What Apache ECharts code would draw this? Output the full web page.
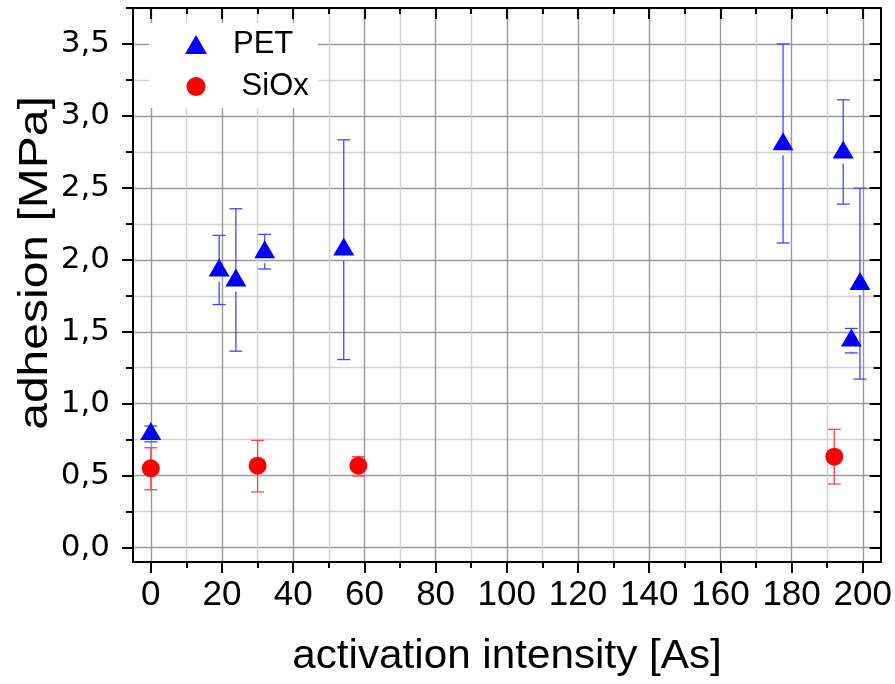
<!DOCTYPE html>
<html>
<head>
<meta charset="utf-8">
<script src="https://cdn.jsdelivr.net/npm/echarts@6/dist/echarts.min.js"></script>
<style>
  html, body { margin: 0; padding: 0; background: #fff; }
  #chart { width: 895px; height: 684px; }
</style>
</head>
<body>
<div id="chart"></div>
<script>
// Adhesion measured on PET and SiOx surfaces versus activation intensity.
// Each point: activation intensity [As], mean adhesion [MPa], error bar low/high.
const petX    = [0, 19.2, 23.9, 32.0, 54.2, 177.6, 194.5, 196.8, 199.2];
const petY    = [0.790, 1.925, 1.856, 2.052, 2.071, 2.804, 2.746, 1.439, 1.832];
const petLow  = [0.735, 1.689, 1.365, 1.936, 1.307, 2.117, 2.387, 1.353, 1.171];
const petHigh = [0.845, 2.170, 2.355, 2.177, 2.834, 3.500, 3.112, 1.523, 2.498];

const sioxX    = [0, 30.0, 58.3, 192.0];
const sioxY    = [0.551, 0.569, 0.569, 0.632];
const sioxLow  = [0.402, 0.387, 0.498, 0.442];
const sioxHigh = [0.694, 0.745, 0.632, 0.822];

// Axis ticks (major ones carry labels)
const xMajorTicks = [0, 20, 40, 60, 80, 100, 120, 140, 160, 180, 200];
const xMinorTicks = [10, 30, 50, 70, 90, 110, 130, 150, 170, 190];
const yMajorTicks = [0, 0.5, 1.0, 1.5, 2.0, 2.5, 3.0, 3.5];
const yMinorTicks = [0.25, 0.75, 1.25, 1.75, 2.25, 2.75, 3.25, 3.75];

const xRange = [-5, 205];
const yRange = [-0.1, 3.75];

const FONT = '"Liberation Sans", Arial, Helvetica, sans-serif';
const WIDE_FONT = '"DejaVu Sans", Verdana, sans-serif';
const FRAME = { show: true, onZero: false, lineStyle: { color: '#000', width: 2 } };
const NO_LINE = { show: false, onZero: false };

function zip4(xs, ys, lo, hi) {
  return xs.map((x, i) => [x, ys[i], lo[i], hi[i]]);
}

// x axes: major/minor on the bottom, mirrored major/minor on the top
function xAxisDef(position, ticks, major, opts) {
  return Object.assign({
    type: 'value', position: position, min: xRange[0], max: xRange[1],
    axisLine: major ? FRAME : NO_LINE,
    axisTick: { show: true, customValues: ticks, inside: position === 'top',
                length: major ? 11 : 6, lineStyle: { color: '#000', width: 2 } },
    axisLabel: { show: false },
    splitLine: { show: false }
  }, opts || {});
}
function yAxisDef(position, ticks, major, opts) {
  return Object.assign({
    type: 'value', position: position, min: yRange[0], max: yRange[1],
    axisLine: major ? FRAME : NO_LINE,
    axisTick: { show: true, customValues: ticks, inside: position === 'right',
                length: major ? 11 : 7, lineStyle: { color: '#000', width: 2 } },
    axisLabel: { show: false },
    splitLine: { show: false }
  }, opts || {});
}

const chart = echarts.init(document.getElementById('chart'), null, { renderer: 'canvas' });

// Error bar drawing: vertical whisker with caps, leaving a gap under the marker
function errorBarSeries(name, data, color, gapBelow) {
  return {
    name: name, type: 'custom', xAxisIndex: 0, yAxisIndex: 0, z: 2,
    silent: true,
    data: data,
    encode: { x: 0, y: [1, 2, 3] },
    renderItem: function (params, api) {
      const x = api.value(0), y = api.value(1), lo = api.value(2), hi = api.value(3);
      const c = api.coord([x, y]);
      const pHi = api.coord([x, hi]);
      const pLo = api.coord([x, lo]);
      const half = 6.5;
      const st = { stroke: color, lineWidth: 1.3 };
      const kids = [
        { type: 'line', shape: { x1: c[0], y1: pHi[1], x2: c[0], y2: c[1] }, style: st },
        { type: 'line', shape: { x1: c[0] - half, y1: pHi[1], x2: c[0] + half, y2: pHi[1] }, style: st },
        { type: 'line', shape: { x1: c[0] - half, y1: pLo[1], x2: c[0] + half, y2: pLo[1] }, style: st }
      ];
      if (pLo[1] > c[1] + gapBelow) {
        kids.push({ type: 'line', shape: { x1: c[0], y1: c[1] + gapBelow, x2: c[0], y2: pLo[1] }, style: st });
      }
      return { type: 'group', children: kids };
    }
  };
}

const option = {
  animation: false,
  backgroundColor: '#fff',
  grid: { left: 133, top: 8, width: 749, height: 554, containLabel: false },
  xAxis: [
    xAxisDef('bottom', xMajorTicks, true, {
      axisLabel: {
        show: true, customValues: xMajorTicks, margin: 16,
        fontFamily: FONT, fontSize: 35, color: '#000',
        formatter: v => String(v)
      },
      splitLine: { show: true, lineStyle: { color: '#9a9a9a', width: 1.4 } }
    }),
    xAxisDef('bottom', xMinorTicks, false, {
      splitLine: { show: true, lineStyle: { color: '#d2d2d2', width: 1.4 } }
    }),
    xAxisDef('top', xMajorTicks, true),
    xAxisDef('top', xMinorTicks, false)
  ],
  yAxis: [
    yAxisDef('left', yMajorTicks, true, {
      axisLabel: {
        show: true, customValues: yMajorTicks, margin: 23,
        fontFamily: WIDE_FONT, fontSize: 31, color: '#000',
        formatter: v => v.toFixed(1).replace('.', ',')
      },
      splitLine: { show: true, lineStyle: { color: '#9a9a9a', width: 1.4 } }
    }),
    yAxisDef('left', yMinorTicks, false, {
      splitLine: { show: true, lineStyle: { color: '#d2d2d2', width: 1.4 } }
    }),
    yAxisDef('right', yMajorTicks, true),
    yAxisDef('right', yMinorTicks, false)
  ],
  legend: {
    orient: 'vertical', left: 149, top: 23,
    padding: [6, 9, 6, 36],
    backgroundColor: '#fff',
    itemWidth: 22, itemHeight: 19, itemGap: 11,
    selectedMode: false,
    textStyle: { fontFamily: FONT, fontSize: 31, color: '#000', lineHeight: 31, padding: [0, 0, 0, 21] },
    formatter: n => (n === 'SiOx' ? ' SiOx' : n),
    data: [{ name: 'PET', icon: 'triangle' }, { name: 'SiOx', icon: 'circle' }]
  },
  graphic: [
    {
      type: 'text', x: 507, y: 657, z: 10, scaleX: 1.03,
      style: { text: 'activation intensity [As]', fontFamily: FONT, fontSize: 41,
               fill: '#000', align: 'center', verticalAlign: 'middle' }
    },
    {
      type: 'text', x: 36, y: 263, rotation: Math.PI / 2, scaleX: 1.2, z: 10,
      style: { text: 'adhesion [MPa]', fontFamily: FONT, fontSize: 40,
               fill: '#000', align: 'center', verticalAlign: 'middle' }
    }
  ],
  series: [
    errorBarSeries('PET error', zip4(petX, petY, petLow, petHigh), '#4646ff', 11),
    errorBarSeries('SiOx error', zip4(sioxX, sioxY, sioxLow, sioxHigh), '#ff4646', 0),
    {
      name: 'PET', type: 'scatter', xAxisIndex: 0, yAxisIndex: 0, z: 3,
      symbol: 'triangle', symbolSize: [21, 18], symbolOffset: [0, -3],
      itemStyle: { color: '#0000ff', opacity: 1 },
      data: petX.map((x, i) => [x, petY[i]])
    },
    {
      name: 'SiOx', type: 'scatter', xAxisIndex: 0, yAxisIndex: 0, z: 3,
      symbol: 'circle', symbolSize: 18,
      itemStyle: { color: '#ff0000', opacity: 1 },
      data: sioxX.map((x, i) => [x, sioxY[i]])
    }
  ]
};

chart.setOption(option);
</script>
</body>
</html>
